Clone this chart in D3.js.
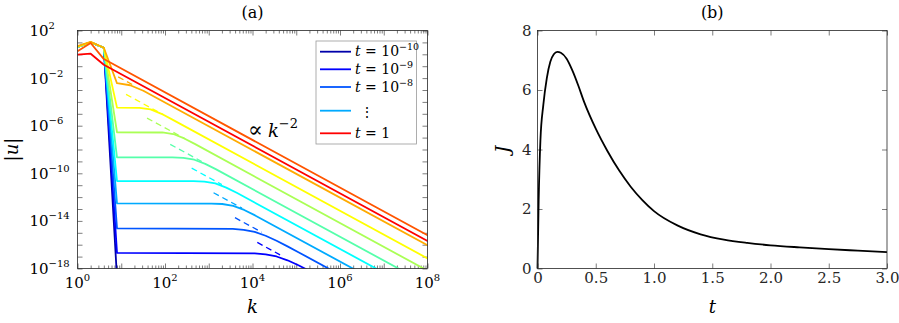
<!DOCTYPE html>
<html>
<head>
<meta charset="utf-8">
<script src="https://cdn.jsdelivr.net/npm/d3@7"></script>
<style>
  body { margin: 0; background: #fff; }
  text { font-family: 'DejaVu Serif', 'Liberation Serif', 'Times New Roman', serif !important; }
</style>
</head>
<body>
<svg id="fig" width="899" height="323" font-family="'DejaVu Serif', 'Liberation Serif', serif"></svg>
<script>
// ---- panel (a) data: points are [log10 k, log10 |u|] ----
var spec_1e10 = [[0,0.62],[0.301,1.0],[0.602,0.55],[0.903,-18.8],[8.5,-18.8]];
var spec_1e9  = [[0,0.62],[0.301,1.0],[0.602,0.55],[0.903,-16.69],[4.05,-16.73],[4.30,-16.81],[4.55,-16.99],[4.80,-17.31],[5.05,-17.73],[5.30,-18.2],[5.55,-18.69],[8.5,-24.59]];
var spec_1e8  = [[0,0.62],[0.301,1.0],[0.602,0.55],[0.903,-14.63],[3.55,-14.67],[3.80,-14.75],[4.05,-14.93],[4.30,-15.25],[4.55,-15.67],[4.80,-16.14],[5.05,-16.63],[8.5,-23.53]];
var spec_1e7  = [[0,0.62],[0.301,1.0],[0.602,0.55],[0.903,-12.53],[3.06,-12.54],[3.31,-12.58],[3.56,-12.73],[3.81,-13.08],[4.06,-13.54],[8.5,-22.41]];
var spec_1e6  = [[0,0.62],[0.301,1.0],[0.602,0.55],[0.903,-10.65],[2.65,-10.66],[2.90,-10.70],[3.15,-10.85],[3.40,-11.20],[3.65,-11.66],[8.5,-21.35]];
var spec_1e5  = [[0,0.62],[0.301,1.0],[0.602,0.55],[0.903,-8.66],[2.17,-8.67],[2.42,-8.71],[2.67,-8.86],[2.92,-9.21],[3.17,-9.67],[8.5,-20.33]];
var spec_1e4  = [[0,0.62],[0.301,1.0],[0.602,0.55],[0.903,-6.55],[1.94,-6.57],[2.19,-6.70],[2.44,-7.07],[2.69,-7.55],[8.5,-19.18]];
var spec_1e3  = [[0,0.65],[0.301,1.03],[0.602,0.55],[0.903,-4.48],[1.42,-4.50],[1.67,-4.63],[1.92,-5.00],[2.17,-5.49],[8.5,-18.15]];
var spec_1e2  = [[0,0.69],[0.301,1.05],[0.602,0.55],[0.903,-2.43],[1.204,-2.6],[1.505,-3.06],[8.5,-17.04]];
var spec_1e1  = [[0,0.25],[0.301,0.95],[0.602,-0.4],[8.5,-16.2]];
var spec_1e0  = [[0,-0.02],[0.301,0.05],[0.602,-0.88],[8.5,-16.68]];

// k^-2 asymptotes drawn dashed
var dash_1e9 = [[4.11,-15.81],[4.63,-16.85]];
var dash_1e8 = [[3.60,-13.73],[4.21,-14.95]];
var dash_1e7 = [[3.11,-11.63],[3.76,-12.93]];
var dash_1e6 = [[2.61,-9.57],[3.30,-10.95]];
var dash_1e5 = [[2.12,-7.57],[2.84,-9.01]];
var dash_1e4 = [[1.59,-5.36],[2.46,-7.10]];
var dash_1e3 = [[1.11,-3.37],[1.97,-5.09]];
var dash_1e2 = [[0.93,-1.90],[1.25,-2.54]];

var spectra = [spec_1e10, spec_1e9, spec_1e8, spec_1e7, spec_1e6, spec_1e5, spec_1e4, spec_1e3, spec_1e2, spec_1e1, spec_1e0];
var asymptotes = [null, dash_1e9, dash_1e8, dash_1e7, dash_1e6, dash_1e5, dash_1e4, dash_1e3, dash_1e2, null, null];
var jetColors = ["#0000aa","#0000ff","#0055ff","#00aaff","#00ffff","#55ffaa","#aaff55","#ffff00","#ffaa00","#ff5500","#ff0000"];

var kLabelExps = [0, 2, 4, 6, 8];
var uTickExps = [2,1,0,-1,-2,-3,-4,-5,-6,-7,-8,-9,-10,-11,-12,-13,-14,-15,-16,-17,-18];
var uLabelExps = [2, -2, -6, -10, -14, -18];

// legend entries: index into colours, exponent text ("" for t = 1, null for dots)
var legendIdx = [0, 1, 2, 3, 10];
var legendExp = ["−10", "−9", "−8", null, ""];

// ---- panel (b) data ----
var tVals = [0, 0.01, 0.025, 0.05, 0.08, 0.11, 0.14, 0.17, 0.2, 0.25, 0.3, 0.35, 0.4, 0.5, 0.6, 0.7, 0.8, 0.9, 1.0, 1.2, 1.4, 1.6, 1.8, 2.0, 2.25, 2.5, 2.75, 3.0];
var jVals = [0, 2.3, 4.3, 5.5, 6.4, 6.95, 7.2, 7.28, 7.25, 7.05, 6.65, 6.15, 5.6, 4.7, 3.95, 3.3, 2.75, 2.3, 1.93, 1.45, 1.15, 0.97, 0.86, 0.78, 0.71, 0.65, 0.6, 0.55];
var tTicks = [0, 0.5, 1.0, 1.5, 2.0, 2.5, 3.0];
var jTicks = [0, 2, 4, 6, 8];

var svg = d3.select("#fig");
var axisCol = "#262626";
var serif = "'DejaVu Serif', 'Liberation Serif', serif";

// ================= panel (a) =================
var ax = 77.5, ay = 30.5, aw = 350, ah = 238;
var xk = d3.scaleLog().domain([1, 1e8]).range([ax, ax + aw]);
var yu = d3.scaleLog().domain([1e-18, 1e2]).range([ay + ah, ay]);

svg.append("clipPath").attr("id", "clipA")
  .append("rect").attr("x", ax).attr("y", ay).attr("width", aw).attr("height", ah);

var gA = svg.append("g");

// ticks (inward, on all four sides)
var majorK = d3.range(0, 9).map(function(e) { return Math.pow(10, e); });
var minorK = [];
for (var d = 0; d < 8; d++) {
  for (var m = 2; m < 10; m++) minorK.push(m * Math.pow(10, d));
}
var uTicks = uTickExps.map(function(e) { return Math.pow(10, e); });

function tickLines(g) {
  g.select(".domain").remove();
  g.selectAll("line").attr("stroke", axisCol).attr("stroke-width", 0.6);
  g.selectAll("text").remove();
}
gA.append("g").attr("transform", "translate(0," + (ay + ah) + ")")
  .call(d3.axisBottom(xk).tickValues(majorK).tickSize(-5)).call(tickLines);
gA.append("g").attr("transform", "translate(0," + (ay + ah) + ")")
  .call(d3.axisBottom(xk).tickValues(minorK).tickSize(-3)).call(tickLines);
gA.append("g").attr("transform", "translate(0," + ay + ")")
  .call(d3.axisTop(xk).tickValues(majorK).tickSize(-5)).call(tickLines);
gA.append("g").attr("transform", "translate(0," + ay + ")")
  .call(d3.axisTop(xk).tickValues(minorK).tickSize(-3)).call(tickLines);
gA.append("g").attr("transform", "translate(" + ax + ",0)")
  .call(d3.axisLeft(yu).tickValues(uTicks).tickSize(-5)).call(tickLines);
gA.append("g").attr("transform", "translate(" + (ax + aw) + ",0)")
  .call(d3.axisRight(yu).tickValues(uTicks).tickSize(-5)).call(tickLines);

// curves
var lineA = d3.line()
  .x(function(p) { return xk(Math.pow(10, p[0])); })
  .y(function(p) { return yu(Math.pow(10, p[1])); });

var curves = gA.append("g").attr("clip-path", "url(#clipA)");
spectra.forEach(function(s, i) {
  curves.append("path").datum(s)
    .attr("d", lineA)
    .attr("fill", "none")
    .attr("stroke", jetColors[i])
    .attr("stroke-width", 1.8)
    .attr("stroke-linejoin", "round");
  if (asymptotes[i]) {
    curves.append("path").datum(asymptotes[i])
      .attr("d", lineA)
      .attr("fill", "none")
      .attr("stroke", jetColors[i])
      .attr("stroke-width", 1.3)
      .attr("stroke-dasharray", "6,4");
  }
});

gA.append("rect").attr("x", ax).attr("y", ay).attr("width", aw).attr("height", ah)
  .attr("fill", "none").attr("stroke", axisCol).attr("stroke-width", 0.8);

// tick labels with exponents
kLabelExps.forEach(function(e) {
  var t = gA.append("text").attr("x", xk(Math.pow(10, e))).attr("y", 288)
    .attr("text-anchor", "middle").attr("font-size", 15);
  t.append("tspan").text("10");
  t.append("tspan").attr("dy", -7).attr("font-size", 10).text(String(e));
});
uLabelExps.forEach(function(e) {
  var t = gA.append("text").attr("x", 29.5).attr("y", yu(Math.pow(10, e)) + 5.5)
    .attr("font-size", 15);
  t.append("tspan").text("10");
  t.append("tspan").attr("dy", -7).attr("font-size", 10).text(String(e).replace("-", "−"));
});

// axis labels and title
gA.append("text").attr("x", ax + aw / 2).attr("y", 313).attr("text-anchor", "middle")
  .attr("font-size", 18).attr("font-style", "italic").text("k");
gA.append("text").attr("transform", "translate(18," + (ay + ah / 2) + ") rotate(-90)")
  .attr("text-anchor", "middle").attr("font-size", 18)
  .call(function(t) {
    t.append("tspan").text("|");
    t.append("tspan").attr("font-style", "italic").text("u");
    t.append("tspan").text("|");
  });
gA.append("text").attr("x", ax + aw / 2).attr("y", 18).attr("text-anchor", "middle")
  .attr("font-size", 16).text("(a)");

// power-law annotation
var ann = gA.append("text").attr("x", 248).attr("y", 136.5).attr("font-size", 18);
ann.append("tspan").attr("font-size", 22).text("∝");
ann.append("tspan").attr("font-style", "italic").attr("dx", 5).text("k");
ann.append("tspan").attr("dy", -9).attr("font-size", 13).text("−2");

// legend
var lg = gA.append("g");
lg.append("rect").attr("x", 316).attr("y", 41).attr("width", 100.5).attr("height", 103)
  .attr("fill", "#fff").attr("stroke", "#999").attr("stroke-width", 0.8);
var rowY = [51.7, 69.3, 87, 110.7, 133.3];
legendIdx.forEach(function(ci, r) {
  lg.append("line").attr("x1", 320).attr("x2", 351).attr("y1", rowY[r]).attr("y2", rowY[r])
    .attr("stroke", jetColors[ci]).attr("stroke-width", 1.8);
  var ex = legendExp[r];
  if (ex === null) {
    lg.append("text").attr("x", 366.5).attr("y", rowY[r] + 6).attr("text-anchor", "middle")
      .attr("font-size", 14).text("⋮");
    return;
  }
  var t = lg.append("text").attr("x", 355).attr("y", rowY[r] + 4.5).attr("font-size", 14);
  t.append("tspan").attr("font-style", "italic").text("t");
  if (ex === "") {
    t.append("tspan").text(" = 1");
  } else {
    t.append("tspan").text(" = 10");
    t.append("tspan").attr("dy", -6).attr("font-size", 9.5).text(ex);
  }
});

// ================= panel (b) =================
var bx = 537.5, bw = 349.5;
var xt = d3.scaleLinear().domain([0, 3]).range([bx, bx + bw]);
var yj = d3.scaleLinear().domain([0, 8]).range([ay + ah, ay]);
var gB = svg.append("g");

function styleAxis(g) {
  g.select(".domain").remove();
  g.selectAll("line").attr("stroke", axisCol).attr("stroke-width", 0.6);
  g.selectAll("text").attr("font-size", 15).attr("fill", axisCol);
}
gB.append("g").attr("transform", "translate(0," + (ay + ah) + ")")
  .call(d3.axisBottom(xt).tickValues(tTicks).tickSize(-5).tickPadding(4)
    .tickFormat(function(v) { return v === 0 ? "0" : v.toFixed(1); }))
  .call(styleAxis).attr("font-family", serif);
gB.append("g").attr("transform", "translate(0," + ay + ")")
  .call(d3.axisTop(xt).tickValues(tTicks).tickSize(-5)).call(tickLines);
gB.append("g").attr("transform", "translate(" + bx + ",0)")
  .call(d3.axisLeft(yj).tickValues(jTicks).tickSize(-5).tickPadding(6).tickFormat(d3.format("d")))
  .call(styleAxis).attr("font-family", serif);
gB.append("g").attr("transform", "translate(" + (bx + bw) + ",0)")
  .call(d3.axisRight(yj).tickValues(jTicks).tickSize(-5)).call(tickLines);

var lineB = d3.line()
  .x(function(d, i) { return xt(tVals[i]); })
  .y(function(d) { return yj(d); })
  .curve(d3.curveMonotoneX);
gB.append("path").datum(jVals).attr("d", lineB)
  .attr("fill", "none").attr("stroke", "#000").attr("stroke-width", 1.8);

gB.append("rect").attr("x", bx).attr("y", ay).attr("width", bw).attr("height", ah)
  .attr("fill", "none").attr("stroke", axisCol).attr("stroke-width", 0.8);

gB.append("text").attr("x", bx + bw / 2).attr("y", 313).attr("text-anchor", "middle")
  .attr("font-size", 18).attr("font-style", "italic").text("t");
gB.append("text").attr("transform", "translate(509," + (ay + ah / 2) + ") rotate(-90)")
  .attr("text-anchor", "middle").attr("font-size", 18).attr("font-style", "italic").text("J");
gB.append("text").attr("x", bx + bw / 2).attr("y", 18).attr("text-anchor", "middle")
  .attr("font-size", 16).text("(b)");

svg.selectAll("text").attr("font-family", serif);
</script>
</body>
</html>
